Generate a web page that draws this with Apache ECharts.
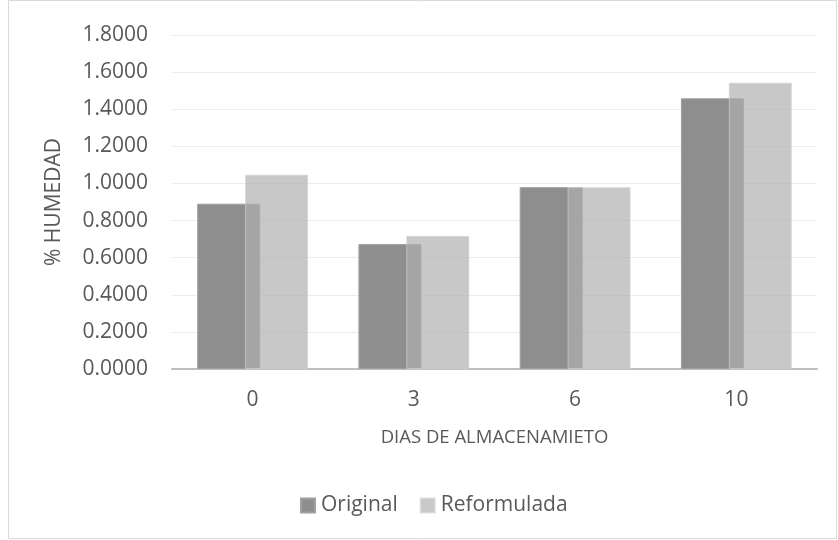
<!DOCTYPE html>
<html><head><meta charset="utf-8">
<script src="https://cdn.jsdelivr.net/npm/echarts@6/dist/echarts.min.js"></script>
<style>html,body{margin:0;padding:0;background:#fff}#c{width:838px;height:540px}</style>
</head><body><div id="c"></div>
<script>
var categories = ['0', '3', '6', '10'];
var original = [0.891, 0.673, 0.980, 1.459];
var reformulada = [1.047, 0.717, 0.980, 1.543];
var yTicks = [0, 0.2, 0.4, 0.6, 0.8, 1.0, 1.2, 1.4, 1.6, 1.8];

var chart = echarts.init(document.getElementById('c'));
var font = 'Open Sans, Noto Sans, sans-serif';
chart.setOption({
  animation: false,
  backgroundColor: '#fff',
  graphic: [{type:'rect', shape:{x:8.5,y:0.5,width:828,height:538}, style:{fill:'none', stroke:'#d9d9d9', lineWidth:1}, silent:true}],
  grid: {left: 172, right: 21, top: 35, bottom: 171},
  legend: {
    top: 490, left: 295,
    itemWidth: 14, itemHeight: 14, itemGap: 22,
    icon: 'rect',
    textStyle: {color: '#595959', fontSize: 21, fontFamily: font, padding: [0,0,0,1]},
    data: ['Original', 'Reformulada']
  },
  xAxis: {
    type: 'category', data: categories,
    name: 'DIAS DE ALMACENAMIETO', nameLocation: 'middle', nameGap: 59,
    nameTextStyle: {color: '#595959', fontSize: 18.5, fontFamily: font},
    axisLine: {lineStyle: {color: '#bfbfbf', width: 2}},
    axisTick: {show: false},
    axisLabel: {color: '#595959', fontSize: 21, fontFamily: font, margin: 21}
  },
  yAxis: {
    type: 'value', min: 0, max: 1.8, interval: 0.2,
    name: '% HUMEDAD', nameLocation: 'middle', nameGap: 107,
    nameTextStyle: {color: '#595959', fontSize: 21, fontFamily: font},
    axisLine: {show: false}, axisTick: {show: false},
    axisLabel: {color: '#595959', fontSize: 21, fontFamily: font, margin: 24,
      formatter: function(v){ return v.toFixed(4); }},
    splitLine: {lineStyle: {color: '#ececec', width: 1}}
  },
  series: [
    {name: 'Original', type: 'bar', data: original, barWidth: 63, barGap: '-24%',
     itemStyle: {color: '#8e8e8e', borderColor: '#a0a0a0', borderWidth: 1}},
    {name: 'Reformulada', type: 'bar', data: reformulada, barWidth: 63,
     itemStyle: {color: 'rgba(175,175,175,0.69)', borderColor: 'rgba(210,210,210,0.7)', borderWidth: 1}}
  ]
});
</script></body></html>
